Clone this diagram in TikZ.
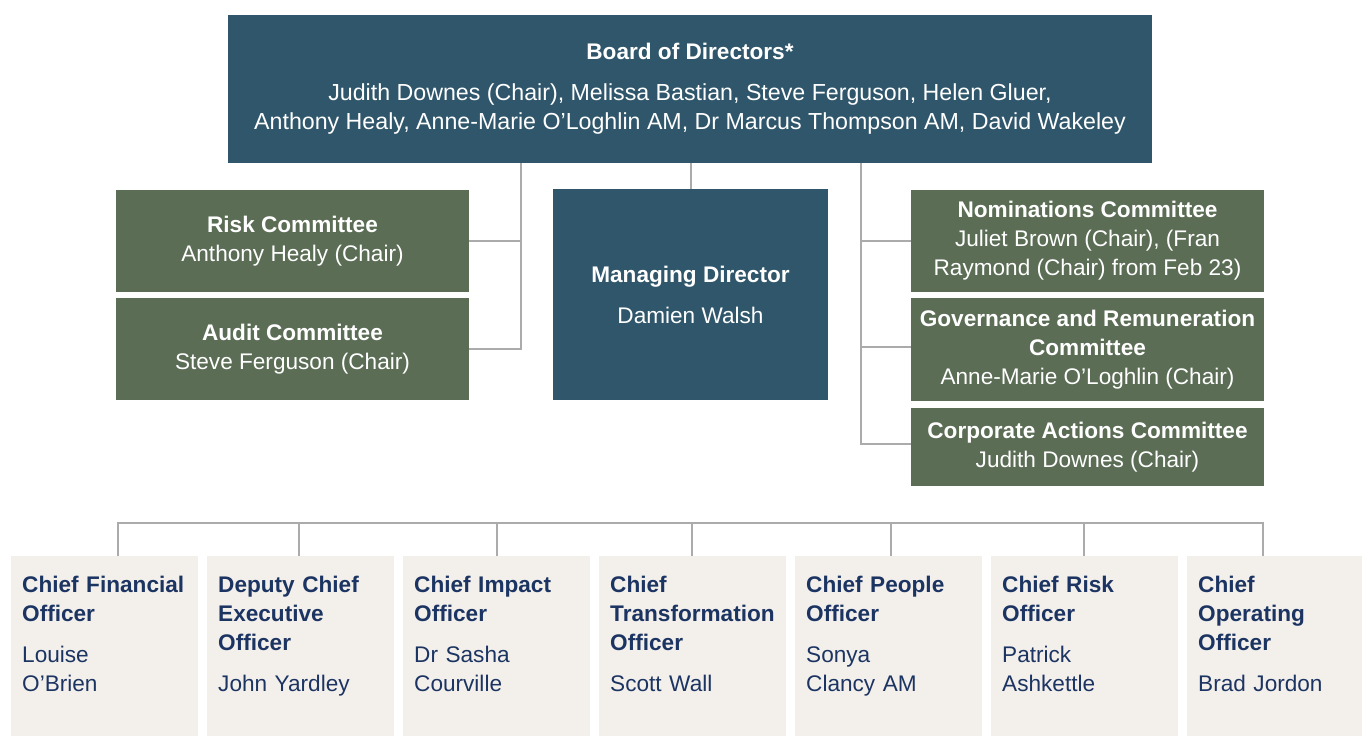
\documentclass[tikz,border=0pt]{standalone}
\usepackage{fontspec}
\setmainfont{Liberation Sans}
\usetikzlibrary{positioning}
\definecolor{brdTeal}{HTML}{2F566B}
\definecolor{cmtGreen}{HTML}{5B6D55}
\definecolor{execFill}{HTML}{F3F0EC}
\definecolor{execNavy}{HTML}{1C3462}
\definecolor{linkGrey}{HTML}{ABABAB}
\tikzset{
  board/.style={fill=brdTeal, text=white, align=center, inner sep=0pt,
              font=\fontsize{22.6}{29}\selectfont},
  cmte/.style={fill=cmtGreen, text=white, align=center, inner sep=0pt,
              minimum width=353pt, font=\fontsize{22.6}{29}\selectfont},
  execbox/.style={fill=execFill, anchor=north west, minimum height=180pt, inner sep=0pt},
  exectxt/.style={anchor=north west, align=left, text=execNavy, inner sep=0pt,
              text width=170pt, font=\fontsize{22.6}{29}\selectfont},
  link/.style={draw=linkGrey, line width=2pt},
}
\newcommand{\hd}[1]{{\bfseries #1}}
\newcommand{\mem}[1]{{\fontsize{23.2}{29}\selectfont #1}}

\begin{document}
\begin{tikzpicture}[x=1pt,y=-1pt]
  \useasboundingbox (0,0) rectangle (1362,736);
  % board and managing director
  \node[board,minimum width=924pt,minimum height=148pt] (board) at (690,89)
    {\hd{Board of Directors*}\\[12pt]
     \mem{Judith Downes (Chair), Melissa Bastian, Steve Ferguson, Helen Gluer,}\\
     \mem{Anthony Healy, Anne-Marie O’Loghlin AM, Dr Marcus Thompson AM, David Wakeley}};
  \node[board,minimum width=275pt,minimum height=211pt] (md) at (690.5,294.5)
    {\hd{Managing Director}\\[12pt]Damien Walsh};
  % committees
  \node[cmte,minimum height=102pt] (risk) at (292.5,241)
    {\hd{Risk Committee}\\Anthony Healy (Chair)};
  \node[cmte,minimum height=102pt] (audit) at (292.5,349)
    {\hd{Audit Committee}\\Steve Ferguson (Chair)};
  \node[cmte,minimum height=102pt] (nom) at (1087.5,241)
    {\hd{Nominations Committee}\\Juliet Brown (Chair), (Fran\\Raymond (Chair) from Feb 23)};
  \node[cmte,minimum height=103pt] (gov) at (1087.5,349.5)
    {\hd{Governance and Remuneration}\\\hd{Committee}\\Anne-Marie O’Loghlin (Chair)};
  \node[cmte,minimum height=78pt] (corp) at (1087.5,447)
    {\hd{Corporate Actions Committee}\\Judith Downes (Chair)};
  \coordinate (lbus) at (521,0);
  \coordinate (rbus) at (861,0);
  \draw[link] (board.south -| lbus) |- (audit.east);
  \draw[link] (risk.east) -- (risk.east -| lbus);
  \draw[link] (board.south -| md.north) -- (md.north);
  \draw[link] (board.south -| rbus) |- ([yshift=3pt]corp.west);
  \draw[link] (nom.west) -- (nom.west -| rbus);
  \draw[link] ([yshift=2.5pt]gov.west) -- ([yshift=2.5pt]gov.west -| rbus);
  % executive team
  \foreach \i/\x/\w/\drop/\role/\who in {
      1/11/187/118/{Chief Financial\\Officer}/{Louise\\O’Brien},
      2/207/187/299/{Deputy Chief\\Executive\\Officer}/{John Yardley},
      3/403/187/497/{Chief Impact\\Officer}/{Dr Sasha\\Courville},
      4/599/187/692/{Chief\\Transformation\\Officer}/{Scott Wall},
      5/795/187/891/{Chief People\\Officer}/{Sonya\\Clancy AM},
      6/991/187/1084/{Chief Risk\\Officer}/{Patrick\\Ashkettle},
      7/1187/175/1263/{Chief\\Operating\\Officer}/{Brad Jordon}}{
    \node[execbox,minimum width=\w pt] (c\i) at (\x,556) {};
    \node[exectxt] (t\i) at ([xshift=11pt,yshift=-20pt]c\i.north west)
      {\hd{\role}\\[12pt]\who};
    \coordinate (d\i) at (\drop,523);
  }
  \draw[link] (c1.north -| d1) -- (d1) -- (d7) -- (c7.north -| d7);
  \foreach \i in {2,...,6}{\draw[link] (d\i) -- (c\i.north -| d\i);}
\end{tikzpicture}
\end{document}
